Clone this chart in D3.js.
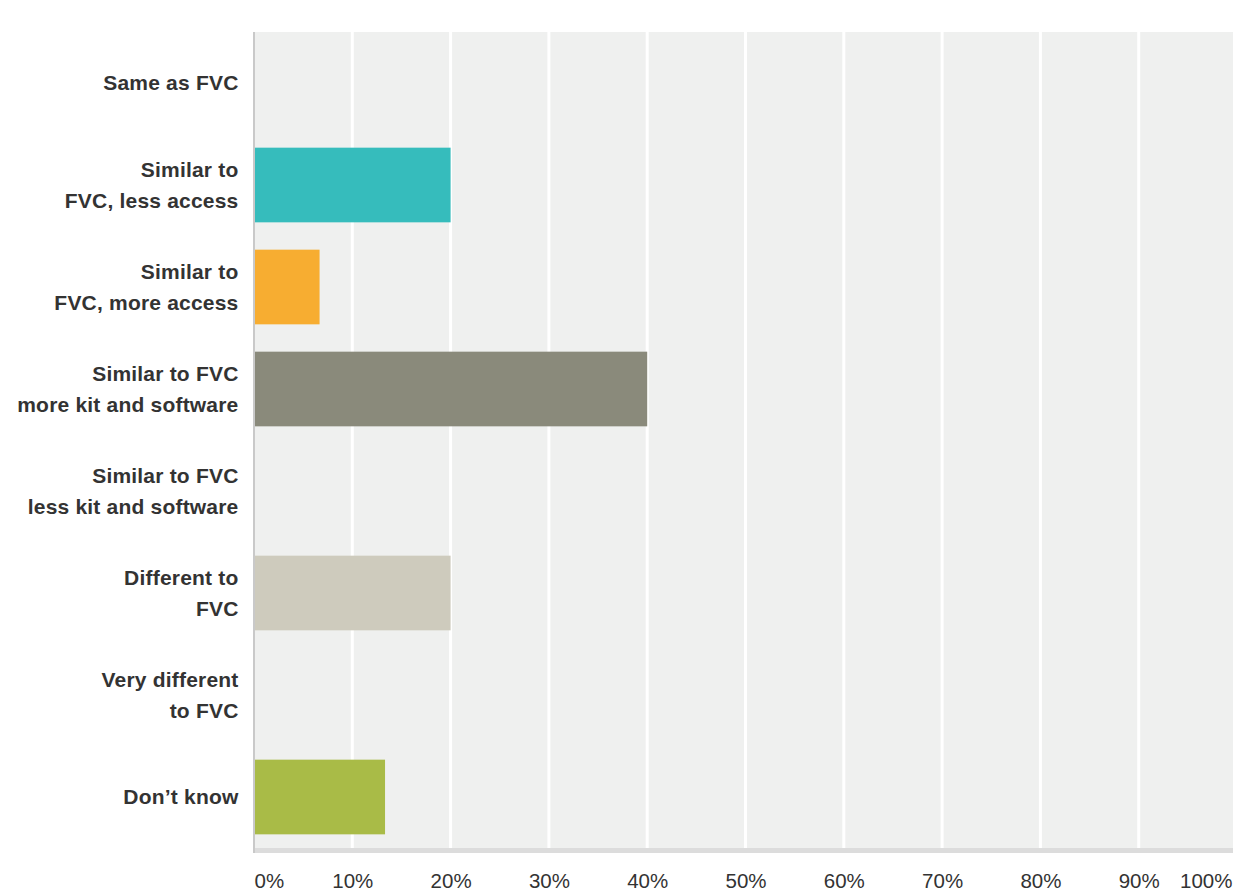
<!DOCTYPE html>
<html>
<head>
<meta charset="utf-8">
<script src="https://cdn.jsdelivr.net/npm/d3@7"></script>
<style>
  html, body { margin: 0; padding: 0; background: #fff; overflow: hidden; }
  svg { display: block; font-family: "Liberation Sans", Arial, sans-serif; }
</style>
</head>
<body>
<svg id="chart" width="1233" height="893"></svg>
<script>
// Answer options (each line of a wrapped label is a separate entry)
const categories = [
  ["Same as FVC"],
  ["Similar to", "FVC, less access"],
  ["Similar to", "FVC, more access"],
  ["Similar to FVC", "more kit and software"],
  ["Similar to FVC", "less kit and software"],
  ["Different to", "FVC"],
  ["Very different", "to FVC"],
  ["Don\u2019t know"]
];
// Share of respondents (%)
const values = [0, 20, 6.67, 40, 0, 20, 0, 13.33];
const barColors = ["#36bcbc", "#36bcbc", "#f7ad31", "#8a8a7b", "#8a8a7b", "#cecbbd", "#cecbbd", "#a9bb47"];
const tickValues = [0, 10, 20, 30, 40, 50, 60, 70, 80, 90, 100];
const tickLabels = ["0%", "10%", "20%", "30%", "40%", "50%", "60%", "70%", "80%", "90%", "100%"];

const svg = d3.select("#chart");
const width = 1233;
const plotLeft = 254, plotRight = 1237, plotTop = 32, plotBottom = 848;

const keys = categories.map((c, i) => i);
const x = d3.scaleLinear().domain([0, 100]).range([plotLeft, plotRight]);
const y = d3.scaleBand().domain(keys).range([plotTop, plotBottom])
  .paddingInner(0.268).paddingOuter(0.134);

// plot background
svg.append("rect")
  .attr("x", plotLeft).attr("y", plotTop)
  .attr("width", plotRight - plotLeft).attr("height", plotBottom - plotTop)
  .attr("fill", "#eff0ef");

// vertical grid lines
svg.append("g").selectAll("line")
  .data(tickValues.slice(1))
  .join("line")
  .attr("x1", d => x(d)).attr("x2", d => x(d))
  .attr("y1", plotTop).attr("y2", plotBottom)
  .attr("stroke", "#ffffff").attr("stroke-width", 3);

// bars
svg.append("g").selectAll("rect")
  .data(values)
  .join("rect")
  .attr("x", x(0) + 1)
  .attr("y", (d, i) => y(i))
  .attr("width", d => Math.max(0, x(d) - x(0) - 1))
  .attr("height", y.bandwidth())
  .attr("fill", (d, i) => barColors[i]);

// baseline band along the bottom and left axis line
svg.append("rect")
  .attr("x", plotLeft - 1).attr("y", plotBottom)
  .attr("width", plotRight - plotLeft + 2).attr("height", 5)
  .attr("fill", "#dcdcdc");
svg.append("line")
  .attr("x1", plotLeft).attr("x2", plotLeft)
  .attr("y1", plotTop).attr("y2", plotBottom + 5)
  .attr("stroke", "#c9c9c9").attr("stroke-width", 2);

// category labels
const yAxis = d3.axisLeft(y).tickSize(0).tickFormat(() => "");
const yg = svg.append("g").attr("transform", "translate(238.5,0)").call(yAxis);
yg.select(".domain").remove();
yg.selectAll(".tick text").remove();
yg.selectAll(".tick").each(function(i) {
  const lines = categories[i];
  const t = d3.select(this).append("text")
    .attr("text-anchor", "end")
    .attr("fill", "#333333")
    .attr("font-size", 21)
    .attr("font-weight", "bold")
    .attr("letter-spacing", 0.2);
  const lh = 31;
  const start = 7 - (lines.length - 1) * lh / 2;
  lines.forEach((ln, k) => {
    t.append("tspan").attr("x", 0).attr("y", start + k * lh).text(ln);
  });
});

// percentage axis
const xAxis = d3.axisBottom(x).tickValues(tickValues).tickSize(0)
  .tickFormat((d, i) => tickLabels[i]);
const xg = svg.append("g").attr("transform", `translate(0,${plotBottom})`).call(xAxis);
xg.select(".domain").remove();
const last = tickValues.length - 1;
xg.selectAll(".tick text")
  .attr("y", 40).attr("dy", 0)
  .attr("x", (d, i) => i === last ? (width - 1) - x(d) : 0)
  .attr("font-size", 20.5)
  .attr("font-family", "\"Liberation Sans\", Arial, sans-serif")
  .attr("fill", "#333333")
  .attr("text-anchor", (d, i) => i === 0 ? "start" : (i === last ? "end" : "middle"));
</script>
</body>
</html>
